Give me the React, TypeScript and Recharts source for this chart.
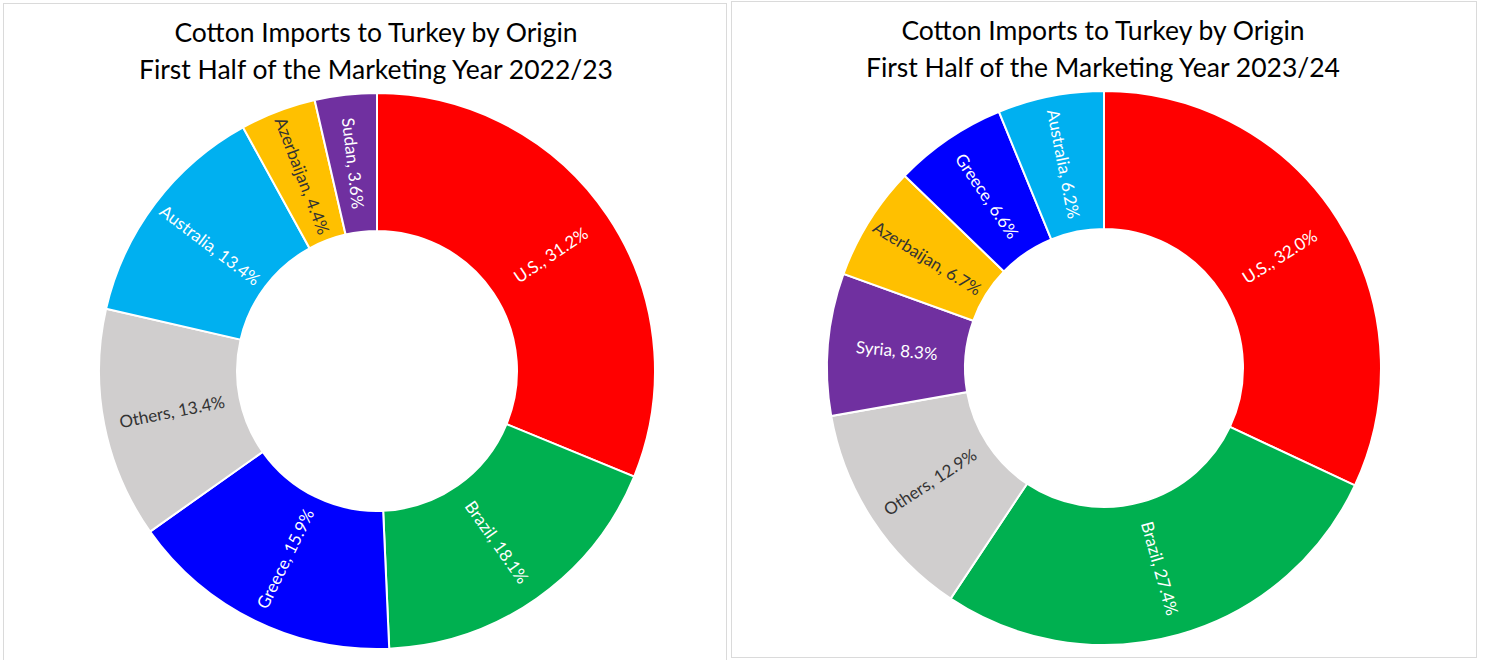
import React from 'react';
import { PieChart, Pie, Cell } from 'recharts';

// First half of MY 2022/23, share of cotton imports (%)
const origins2223 = ['U.S.', 'Brazil', 'Greece', 'Others', 'Australia', 'Azerbaijan', 'Sudan'];
const shares2223 = [31.2, 18.1, 15.9, 13.4, 13.4, 4.4, 3.6];

// First half of MY 2023/24, share of cotton imports (%)
const origins2324 = ['U.S.', 'Brazil', 'Others', 'Syria', 'Azerbaijan', 'Greece', 'Australia'];
const shares2324 = [32.0, 27.4, 12.9, 8.3, 6.7, 6.6, 6.2];

const titleLine1 = 'Cotton Imports to Turkey by Origin';
const titleLine2a = 'First Half of the Marketing Year 2022/23';
const titleLine2b = 'First Half of the Marketing Year 2023/24';

const COLORS: Record<string, string> = {
  'U.S.': '#FF0000',
  Brazil: '#00B050',
  Greece: '#0000FF',
  Others: '#D0CECE',
  Australia: '#00B0F0',
  Azerbaijan: '#FFC000',
  Sudan: '#7030A0',
  Syria: '#7030A0',
};

const DARK_LABELS = ['Others', 'Azerbaijan'];
const FONT = 'Lato, "Open Sans", sans-serif';
const RAD = Math.PI / 180;

const renderLabel = (props: any) => {
  const { cx, cy, midAngle, innerRadius, outerRadius, name, value } = props;
  const r = (innerRadius + outerRadius) / 2;
  const x = cx + r * Math.cos(-midAngle * RAD);
  const y = cy + r * Math.sin(-midAngle * RAD);
  // radial text, kept upright
  let rot = -midAngle;
  while (rot > 180) rot -= 360;
  while (rot <= -180) rot += 360;
  if (rot > 90) rot -= 180;
  if (rot < -90) rot += 180;
  const fill = DARK_LABELS.includes(name) ? '#333333' : '#FFFFFF';
  return (
    <text
      x={x}
      y={y}
      fill={fill}
      fontSize={17}
      fontFamily={FONT}
      textAnchor="middle"
      dominantBaseline="central"
      transform={`rotate(${rot} ${x} ${y})`}
    >
      {`${name}, ${value.toFixed(1)}%`}
    </text>
  );
};

type PanelProps = {
  left: number;
  top: number;
  width: number;
  height: number;
  cx: number;
  cy: number;
  outer: number;
  inner: number;
  names: string[];
  values: number[];
  subtitle: string;
  titleTop: number;
  titleX: number;
};

const DonutPanel = ({ left, top, width, height, cx, cy, outer, inner, names, values, subtitle, titleTop, titleX }: PanelProps) => {
  const data = names.map((name, i) => ({ name, value: values[i] }));
  return (
    <div
      style={{
        position: 'absolute',
        left,
        top,
        width,
        height,
        border: '1px solid #DADADA',
        background: '#FFFFFF',
        boxSizing: 'border-box',
      }}
    >
      <div
        style={{
          position: 'absolute',
          left: titleX - 300,
          width: 600,
          top: titleTop,
          textAlign: 'center',
          fontFamily: FONT,
          fontSize: 26.5,
          lineHeight: '37px',
          color: '#000000',
        }}
      >
        <div>{titleLine1}</div>
        <div>{subtitle}</div>
      </div>
      <div style={{ position: 'absolute', left: 0, top: 0 }}>
        <PieChart width={width - 2} height={height - 2}>
          <Pie
            data={data}
            dataKey="value"
            nameKey="name"
            cx={cx}
            cy={cy}
            innerRadius={inner}
            outerRadius={outer}
            startAngle={90}
            endAngle={-270}
            stroke="#FFFFFF"
            strokeWidth={2}
            label={renderLabel}
            labelLine={false}
            isAnimationActive={false}
          >
            {data.map((d) => (
              <Cell key={d.name} fill={COLORS[d.name]} />
            ))}
          </Pie>
        </PieChart>
      </div>
    </div>
  );
};

export default function App() {
  return (
    <div style={{ position: 'absolute', left: 0, top: 0, width: 1489, height: 660, background: '#FFFFFF', overflow: 'hidden' }}>
      <DonutPanel
        left={3}
        top={3}
        width={724}
        height={660}
        cx={368}
        cy={362}
        outer={278}
        inner={140}
        names={origins2223}
        values={shares2223}
        subtitle={titleLine2a}
        titleTop={10}
        titleX={372}
      />
      <DonutPanel
        left={731}
        top={1}
        width={746}
        height={657}
        cx={367}
        cy={361}
        outer={277}
        inner={139}
        names={origins2324}
        values={shares2324}
        subtitle={titleLine2b}
        titleTop={10}
        titleX={371}
      />
    </div>
  );
}
